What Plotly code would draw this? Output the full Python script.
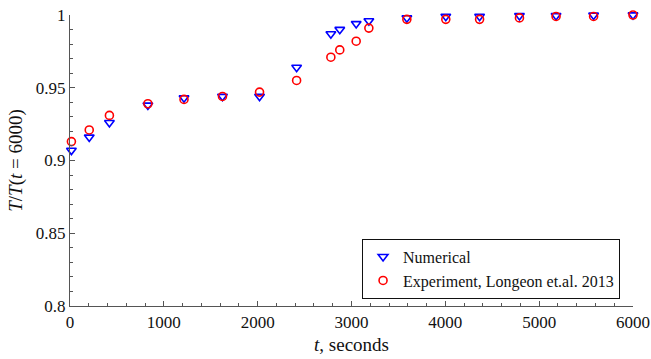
import plotly.graph_objects as go

# Time samples (seconds) shared by both series
t_seconds = [15, 205, 420, 830, 1215, 1625, 2020, 2415, 2780, 2875, 3050, 3185,
             3590, 4005, 4365, 4790, 5180, 5580, 6000]

# Normalised temperature T / T(t = 6000)
numerical = [0.907, 0.916, 0.926, 0.938, 0.943, 0.944, 0.944, 0.964, 0.987, 0.990,
             0.994, 0.996, 0.998, 0.999, 0.999, 0.9995, 0.9995, 0.9998, 1.0]
experiment = [0.913, 0.921, 0.931, 0.939, 0.942, 0.944, 0.947, 0.955, 0.971, 0.976,
              0.982, 0.991, 0.997, 0.997, 0.997, 0.998, 0.999, 0.999, 1.0]

x_ticks = [0, 1000, 2000, 3000, 4000, 5000, 6000]
y_ticks = [0.8, 0.85, 0.9, 0.95, 1.0]
y_tick_text = ["0.8", "0.85", "0.9", "0.95", "1"]

FONT = "Liberation Serif"
AXIS_COLOR = "#555555"

fig = go.Figure()
fig.add_trace(go.Scatter(
    x=t_seconds, y=numerical, mode="markers", name="Numerical", cliponaxis=False,
    marker=dict(symbol="triangle-down-open", size=8.5, color="#0000ff",
                line=dict(width=1.6, color="#0000ff")),
))
fig.add_trace(go.Scatter(
    x=t_seconds, y=experiment, mode="markers", name="Experiment, Longeon et.al. 2013",
    cliponaxis=False,
    marker=dict(symbol="circle-open", size=8, color="#ff0000",
                line=dict(width=1.6, color="#ff0000")),
))

axis_common = dict(
    showgrid=False, zeroline=False, showline=True, linecolor=AXIS_COLOR, linewidth=1.2,
    ticks="inside", ticklen=5, tickwidth=1, tickcolor=AXIS_COLOR, automargin=False,
    tickfont=dict(family=FONT, size=17, color="#111111"),
)

fig.update_xaxes(
    range=[0, 6000], tickvals=x_ticks, ticktext=[str(v) for v in x_ticks],
    minor=dict(dtick=200, ticks="inside", ticklen=3, tickcolor=AXIS_COLOR, showgrid=False),
    title=dict(text="<i>t</i>, seconds", font=dict(family=FONT, size=19, color="#111111"),
               standoff=7),
    **axis_common,
)
fig.update_yaxes(
    range=[0.8, 1.0], tickvals=y_ticks, ticktext=y_tick_text,
    minor=dict(dtick=0.01, ticks="inside", ticklen=3, tickcolor=AXIS_COLOR, showgrid=False),
    title=dict(text="<i>T</i>/<i>T</i>(<i>t</i> = 6000)",
               font=dict(family=FONT, size=19, color="#111111"), standoff=8),
    **axis_common,
)

fig.update_layout(
    width=651, height=359,
    margin=dict(l=70, r=18, t=15, b=53),
    plot_bgcolor="white", paper_bgcolor="white",
    legend=dict(
        x=0.977, y=0.025, xanchor="right", yanchor="bottom",
        bgcolor="white", bordercolor="#111111", borderwidth=1,
        font=dict(family=FONT, size=16, color="#111111"),
        itemwidth=30, tracegroupgap=0,
    ),
)

fig.write_html("out.html")
